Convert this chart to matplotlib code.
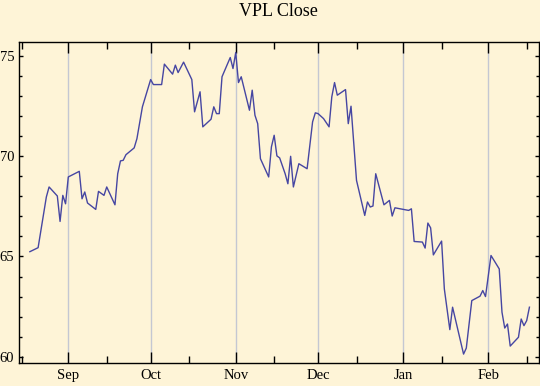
import matplotlib
matplotlib.use('Agg')
import matplotlib.pyplot as plt
import matplotlib.dates as mdates
from matplotlib.ticker import MultipleLocator
import pandas as pd

# closing prices (turning points of the line)
dates = [
    "2007-08-18", "2007-08-21", "2007-08-24", "2007-08-25", "2007-08-28",
    "2007-08-29", "2007-08-30", "2007-08-31", "2007-09-01", "2007-09-05",
    "2007-09-06", "2007-09-07", "2007-09-08", "2007-09-11", "2007-09-12",
    "2007-09-14", "2007-09-15", "2007-09-18", "2007-09-19", "2007-09-20",
    "2007-09-21", "2007-09-22", "2007-09-25", "2007-09-26", "2007-09-28",
    "2007-10-01", "2007-10-02", "2007-10-05", "2007-10-06", "2007-10-09",
    "2007-10-10", "2007-10-11", "2007-10-13", "2007-10-16", "2007-10-17",
    "2007-10-19", "2007-10-20", "2007-10-23", "2007-10-24", "2007-10-25",
    "2007-10-26", "2007-10-27", "2007-10-30", "2007-10-31", "2007-11-01",
    "2007-11-02", "2007-11-03", "2007-11-06", "2007-11-07", "2007-11-08",
    "2007-11-09", "2007-11-10", "2007-11-13", "2007-11-14", "2007-11-15",
    "2007-11-16", "2007-11-17", "2007-11-19", "2007-11-20", "2007-11-21",
    "2007-11-22", "2007-11-24", "2007-11-27", "2007-11-29", "2007-11-30",
    "2007-12-01", "2007-12-03", "2007-12-05", "2007-12-06", "2007-12-07",
    "2007-12-08", "2007-12-11", "2007-12-12", "2007-12-13", "2007-12-15",
    "2007-12-18", "2007-12-19", "2007-12-20", "2007-12-21", "2007-12-22",
    "2007-12-25", "2007-12-27", "2007-12-28", "2007-12-29", "2008-01-03",
    "2008-01-04", "2008-01-05", "2008-01-08", "2008-01-09", "2008-01-10",
    "2008-01-11", "2008-01-12", "2008-01-15", "2008-01-16", "2008-01-18",
    "2008-01-19", "2008-01-23", "2008-01-24", "2008-01-26", "2008-01-29",
    "2008-01-30", "2008-01-31", "2008-02-02", "2008-02-05", "2008-02-06",
    "2008-02-07", "2008-02-08", "2008-02-09", "2008-02-12", "2008-02-13",
    "2008-02-14", "2008-02-15", "2008-02-16",
]
close = [
    65.24, 65.44, 67.97, 68.47, 68.02, 66.75, 68.05, 67.63, 68.97, 69.25,
    67.88, 68.22, 67.67, 67.35, 68.25, 68.05, 68.47, 67.58, 69.13, 69.77,
    69.80, 70.08, 70.42, 70.88, 72.47, 73.83, 73.58, 73.58, 74.60, 74.10,
    74.55, 74.18, 74.70, 73.83, 72.22, 73.22, 71.47, 71.85, 72.47, 72.13,
    72.13, 73.97, 74.93, 74.38, 75.18, 73.68, 73.97, 72.30, 73.30, 72.05,
    71.63, 69.88, 68.97, 70.47, 71.05, 70.02, 69.92, 69.13, 68.63, 70.00,
    68.47, 69.63, 69.38, 71.72, 72.17, 72.13, 71.88, 71.47, 72.97, 73.68,
    73.05, 73.33, 71.63, 72.50, 68.80, 67.05, 67.72, 67.47, 67.52, 69.13,
    67.58, 67.80, 67.02, 67.43, 67.30, 67.38, 65.75, 65.72, 65.42, 66.67,
    66.43, 65.08, 65.77, 63.38, 61.35, 62.47, 60.13, 60.43, 62.80, 63.02,
    63.30, 63.00, 65.05, 64.38, 62.22, 61.43, 61.63, 60.53, 60.97, 61.88,
    61.55, 61.80, 62.47,
]
title = "VPL Close"

bg = '#fef4d7'
serif = ['Liberation Serif', 'DejaVu Serif']

fig = plt.figure(figsize=(5.4, 3.86), dpi=100, facecolor=bg)
ax = fig.add_axes([0.0352, 0.0588, 0.9626, 0.8332], facecolor=bg)

x = pd.to_datetime(dates)
ax.plot(x, close, color='#4646a2', lw=1.0, zorder=3)

ax.set_xlim(pd.Timestamp('2007-08-14 01:00'), pd.Timestamp('2008-02-19 10:00'))
ax.set_ylim(59.67, 75.72)

ax.xaxis.set_major_locator(mdates.MonthLocator())
ax.xaxis.set_minor_locator(mdates.MonthLocator(bymonthday=15))
ax.xaxis.set_major_formatter(mdates.DateFormatter('%b'))
ax.yaxis.set_major_locator(MultipleLocator(5))
ax.yaxis.set_minor_locator(MultipleLocator(1))

ax.grid(axis='x', which='major', color='#c4c7d2', lw=1.0, zorder=1)

ax.tick_params(axis='x', which='major', direction='in', length=7.8, width=1.0,
               top=True, pad=4, labelsize=10.5, color='black')
ax.tick_params(axis='x', which='minor', direction='in', length=4.8, width=1.0,
               top=True)
ax.tick_params(axis='y', which='major', direction='in', length=3.2, width=1.0,
               right=True, pad=3.5, labelsize=10.5)
ax.tick_params(axis='y', which='minor', direction='in', length=2.2, width=1.0,
               right=True)

for lab in ax.get_xticklabels() + ax.get_yticklabels():
    lab.set_family(serif)

for s in ax.spines.values():
    s.set_color('black')
    s.set_linewidth(1.0)

fig.text(0.5154, 0.9585, title, ha='center', va='baseline',
         fontsize=13, family=serif)

fig.savefig('out.png', dpi=100, facecolor=bg)
